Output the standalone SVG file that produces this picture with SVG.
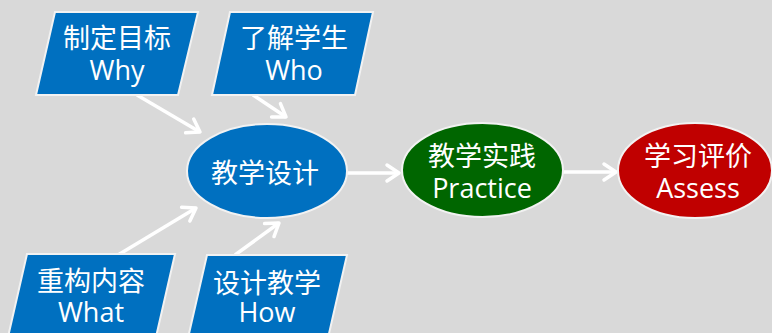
<svg xmlns="http://www.w3.org/2000/svg" width="772" height="333" viewBox="0 0 772 333">
<style>
.bg{fill:#D9D9D9}
.para{fill:#0070C0;stroke:#F2F2F2;stroke-width:2}
.ell{stroke:#F2F2F2;stroke-width:2}
.t{font-family:"Noto Sans CJK SC","Microsoft YaHei",sans-serif;font-size:27px;fill:#FFFFFF;text-anchor:middle}
.e{font-family:"Open Sans","Segoe UI","Noto Sans",sans-serif;font-size:27px;fill:#FFFFFF;text-anchor:middle}
.conn line{stroke:#FFFFFF;stroke-width:3.5;marker-end:url(#arr)}
</style>
<defs>
<marker id="arr" markerUnits="userSpaceOnUse" viewBox="-16 -12 20 24" refX="0" refY="0" markerWidth="20" markerHeight="24" orient="auto" overflow="visible">
<path d="M-12,-8 L0,0 L-12,8" fill="none" stroke="#FFFFFF" stroke-width="3.5" stroke-linecap="round" stroke-linejoin="round"/>
</marker>
</defs>
<rect class="bg" x="0" y="0" width="772" height="333"/>
<g id="connectors" class="conn">
<line x1="137" y1="95" x2="200" y2="132"/>
<line x1="253" y1="95" x2="286" y2="117"/>
<line x1="118" y1="255" x2="196" y2="208"/>
<line x1="235" y1="255" x2="279" y2="223"/>
<line x1="347" y1="173" x2="399" y2="173"/>
<line x1="562" y1="172" x2="616" y2="172"/>
</g>
<g id="why">
<polygon class="para" points="55,12 198,12 178,95 36,95"/>
<text class="t" x="117" y="48">制定目标</text>
<text class="e" x="117" y="80">Why</text>
</g>
<g id="who">
<polygon class="para" points="230,12 373,12 355,95 212,95"/>
<text class="t" x="294" y="48">了解学生</text>
<text class="e" x="294" y="80">Who</text>
</g>
<g id="what">
<polygon class="para" points="27,254 175,254 156,337 8,337"/>
<text class="t" x="91" y="291">重构内容</text>
<text class="e" x="91" y="322">What</text>
</g>
<g id="how">
<polygon class="para" points="207,255 347,255 328,338 188,338"/>
<text class="t" x="267" y="293">设计教学</text>
<text class="e" x="267" y="322">How</text>
</g>
<g id="design">
<ellipse class="ell" cx="267" cy="171" rx="80" ry="47" fill="#0070C0"/>
<text class="t" x="265" y="183">教学设计</text>
</g>
<g id="practice">
<ellipse class="ell" cx="482.5" cy="170" rx="80.5" ry="47" fill="#006600"/>
<text class="t" x="482" y="166">教学实践</text>
<text class="e" x="482" y="198">Practice</text>
</g>
<g id="assess">
<ellipse class="ell" cx="695" cy="170.5" rx="77" ry="47.5" fill="#C00000"/>
<text class="t" x="698" y="166">学习评价</text>
<text class="e" x="698" y="198">Assess</text>
</g>
</svg>
